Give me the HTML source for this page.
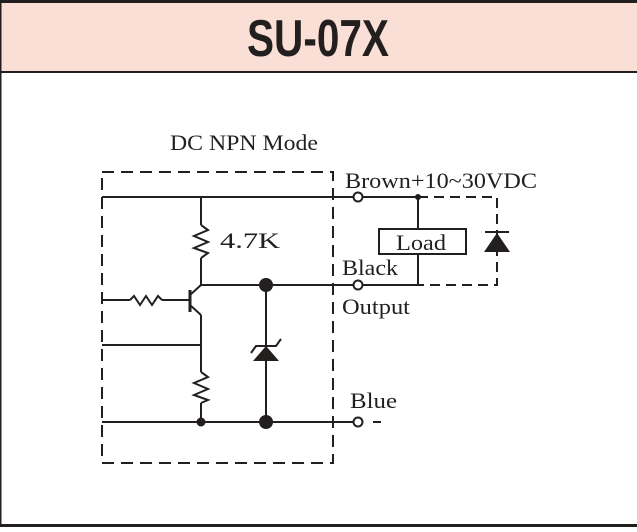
<!DOCTYPE html>
<html><head><style>
body{margin:0;width:637px;height:527px;overflow:hidden;background:#fff}
</style></head><body>
<svg width="637" height="527" viewBox="0 0 637 527" xmlns="http://www.w3.org/2000/svg">
<rect x="0" y="0" width="637" height="527" fill="#fff"/>
<rect x="0" y="3" width="637" height="68" fill="#f9dfd6"/>
<rect x="0" y="0" width="637" height="3" fill="#231f1f"/>
<rect x="0" y="71" width="637" height="2" fill="#231f1f"/>
<rect x="0" y="0" width="1.5" height="527" fill="#231f1f"/>
<rect x="0" y="524" width="637" height="3" fill="#231f1f"/>
<text x="318" y="56" text-anchor="middle" font-family="Liberation Sans" font-weight="bold" font-size="52" fill="#231f1f" transform="translate(318 0) scale(0.78 1) translate(-318 0)">SU-07X</text>
<g font-family="Liberation Serif" font-size="22" fill="#231f1f">
<text x="170" y="150" textLength="148" lengthAdjust="spacingAndGlyphs">DC NPN Mode</text>
<text x="345" y="188" textLength="192" lengthAdjust="spacingAndGlyphs">Brown+10~30VDC</text>
<text x="220" y="248" textLength="60" lengthAdjust="spacingAndGlyphs">4.7K</text>
<text x="342" y="275" textLength="56" lengthAdjust="spacingAndGlyphs">Black</text>
<text x="342" y="314" textLength="68" lengthAdjust="spacingAndGlyphs">Output</text>
<text x="350" y="408" textLength="47" lengthAdjust="spacingAndGlyphs">Blue</text>
<text x="396" y="250" textLength="50" lengthAdjust="spacingAndGlyphs">Load</text>
</g>
<g stroke="#231f1f" stroke-width="2" fill="none">
<rect x="102" y="172" width="231" height="291" stroke-dasharray="12,7"/>
<line x1="102" y1="197" x2="353" y2="197"/>
<line x1="201" y1="197" x2="201" y2="225"/>
<polyline points="201,225 208,230 194,236 208,242 194,248 208,253 201,258"/>
<line x1="201" y1="258" x2="201" y2="285"/>
<line x1="201" y1="285" x2="353" y2="285"/>
<line x1="190" y1="290" x2="190" y2="312" stroke-width="3"/>
<line x1="190" y1="295" x2="201" y2="285"/>
<line x1="190" y1="305" x2="201" y2="315"/>
<line x1="102" y1="300" x2="130" y2="300"/>
<polyline points="130,300 134,296 140,305 146,296 152,305 158,296 162,300"/>
<line x1="162" y1="300" x2="190" y2="300"/>
<line x1="201" y1="315" x2="201" y2="372"/>
<line x1="102" y1="345" x2="201" y2="345"/>
<polyline points="201,372 208,377 194,383 208,389 194,395 208,400 201,403"/>
<line x1="201" y1="403" x2="201" y2="422"/>
<line x1="102" y1="422" x2="353" y2="422"/>
<line x1="266" y1="285" x2="266" y2="422"/>
<polyline points="251,353 256,346 276,346 281,339"/>
<line x1="363" y1="197" x2="418" y2="197"/>
<line x1="363" y1="285" x2="418" y2="285"/>
<line x1="418" y1="197" x2="418" y2="229"/>
<line x1="418" y1="254" x2="418" y2="285"/>
<rect x="379" y="229" width="87" height="25"/>
<polyline points="418,197 497,197 497,285 418,285" stroke-dasharray="10,6"/>
<line x1="485" y1="232" x2="509" y2="232"/>
<line x1="373" y1="422" x2="381" y2="422"/>
<circle cx="358" cy="197" r="4.5" fill="#fff"/>
<circle cx="358" cy="285" r="4.5" fill="#fff"/>
<circle cx="358" cy="422" r="4.5" fill="#fff"/>
</g>
<g fill="#231f1f">
<polygon points="266,346 253,361 279,361"/>
<polygon points="497,233 484,252 510,252"/>
<circle cx="266" cy="285" r="7"/>
<circle cx="266" cy="422" r="7"/>
<circle cx="201" cy="422" r="4.5"/>
<circle cx="418" cy="197" r="3"/>
</g>
</svg>
</body></html>
